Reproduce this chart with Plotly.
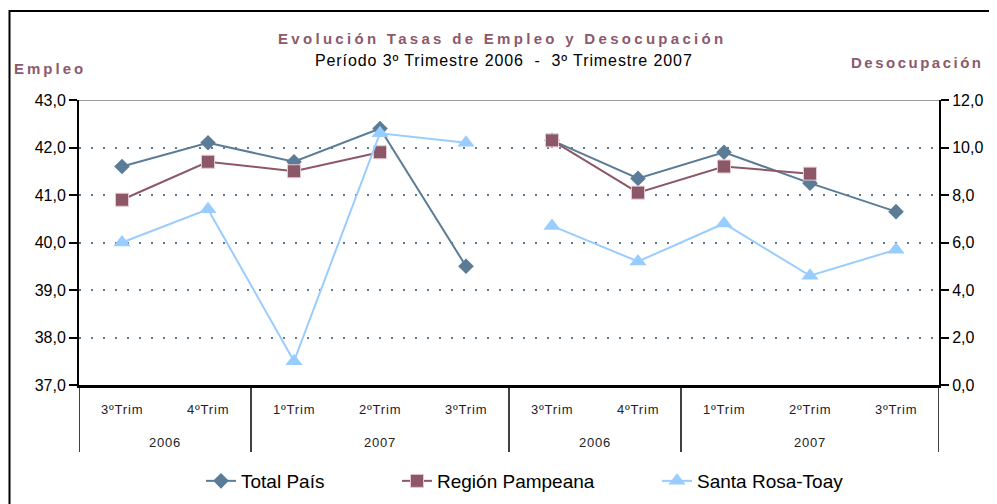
import plotly.graph_objects as go

years = ["2006", "2007", "2006", "2007"]
year_groups = [[0, 1], [2, 3, 4], [5, 6], [7, 8, 9]]
quarters = ["3ºTrim", "4ºTrim", "1ºTrim", "2ºTrim", "3ºTrim",
            "3ºTrim", "4ºTrim", "1ºTrim", "2ºTrim", "3ºTrim"]
x_emp = [0, 1, 2, 3, 4]
x_des = [5, 6, 7, 8, 9]

emp_total = [41.6, 42.1, 41.7, 42.4, 39.5]
emp_pampeana = [40.9, 41.7, 41.5, 41.9, None]
emp_santarosa = [40.0, 40.7, 37.5, 42.3, 42.1]

des_total = [10.3, 8.7, 9.8, 8.5, 7.3]
des_pampeana = [10.3, 8.1, 9.2, 8.9, None]
des_santarosa = [6.7, 5.2, 6.8, 4.6, 5.7]

names = ["Total País", "Región Pampeana", "Santa Rosa-Toay"]
colors = ["#5B7C96", "#8C5867", "#99CCFF"]
symbols = ["diamond", "square", "triangle-up"]
sizes = [12, 13, 15]
legend_ids = ["legend", "legend2", "legend3"]

MAUVE = "#8C5A6C"
FONT = "Liberation Sans, Arial, sans-serif"

# page geometry (the page body adds an 8px offset)
OFF = 8
PW, PH = 997, 504
L, R, T, B = 79, 939, 100, 385


def px(p):
    return (p - L) / (R - L)


def py(p):
    return (B - p) / (B - T)


fig = go.Figure()
emp = [emp_total, emp_pampeana, emp_santarosa]
des = [des_total, des_pampeana, des_santarosa]
for i in range(3):
    mk = dict(symbol=symbols[i], size=sizes[i], color=colors[i],
              line=dict(width=1 if i == 1 else 0, color="#E8C8D0"))
    fig.add_trace(go.Scatter(x=x_emp, y=emp[i], mode="lines+markers", name=names[i],
                             line=dict(color=colors[i], width=2), marker=mk,
                             legendgroup=names[i], showlegend=True, yaxis="y",
                             legend=legend_ids[i]))
    fig.add_trace(go.Scatter(x=x_des, y=des[i], mode="lines+markers", name=names[i],
                             line=dict(color=colors[i], width=2), marker=mk,
                             legendgroup=names[i], showlegend=False, yaxis="y2",
                             legend=legend_ids[i]))

shapes = []
shapes.append(dict(type="line", xref="paper", yref="y", x0=0, x1=1, y0=43, y1=43,
                   line=dict(color="#9A9A9A", width=2), layer="below"))
for b in [-0.5, 1.5, 4.5, 6.5, 9.5]:
    shapes.append(dict(type="line", xref="x", yref="paper", x0=b, x1=b, y0=0, y1=py(452),
                       line=dict(color="black", width=1.5)))
shapes.append(dict(type="rect", xref="paper", yref="paper", x0=px(9.5), x1=px(1100),
                   y0=py(600), y1=py(11), line=dict(color="black", width=2)))

qfont = dict(family=FONT, size=13, color="#222")
annotations = []
for xi, q in enumerate(quarters):
    annotations.append(dict(x=xi, y=0, xref="x", yref="paper", yanchor="middle",
                            text='<span style="letter-spacing:0.8px">' + q + '</span>',
                            showarrow=False, yshift=-24, font=qfont))
for yr, grp in zip(years, year_groups):
    annotations.append(dict(x=sum(grp) / len(grp), y=0, xref="x", yref="paper",
                            yanchor="middle",
                            text='<span style="letter-spacing:0.8px">' + yr + '</span>',
                            showarrow=False, yshift=-57, font=qfont))
annotations.append(dict(x=px(502), y=py(38), xref="paper", yref="paper", showarrow=False,
                        xanchor="center", yanchor="middle",
                        text='<b><span style="letter-spacing:3.3px">Evolución Tasas de Empleo y Desocupación</span></b>',
                        font=dict(family=FONT, size=15, color=MAUVE)))
annotations.append(dict(x=px(503.5), y=py(60), xref="paper", yref="paper", showarrow=False,
                        xanchor="center", yanchor="middle",
                        text='<span style="letter-spacing:0.9px">Período 3º Trimestre 2006  -  3º Trimestre 2007</span>',
                        font=dict(family=FONT, size=16, color="black")))
annotations.append(dict(x=px(12), y=py(68), xref="paper", yref="paper", xanchor="left",
                        yanchor="middle", showarrow=False,
                        text='<b><span style="letter-spacing:3px">Empleo</span></b>',
                        font=dict(family=FONT, size=15, color=MAUVE)))
annotations.append(dict(x=px(986), y=py(62), xref="paper", yref="paper", xanchor="right",
                        yanchor="middle", showarrow=False,
                        text='<b><span style="letter-spacing:2.5px">Desocupación</span></b>',
                        font=dict(family=FONT, size=15, color=MAUVE)))

leg_common = dict(orientation="h", y=py(481), yanchor="middle", xanchor="left",
                  font=dict(family=FONT, size=19, color="black"), bgcolor="rgba(0,0,0,0)")

W, H = PW - OFF, PH - OFF
fig.update_layout(
    width=W, height=H,
    margin=dict(l=L - OFF, r=W - (R - OFF), t=T - OFF, b=H - (B - OFF), autoexpand=False),
    paper_bgcolor="white", plot_bgcolor="white",
    separators=",.",
    showlegend=True,
    legend=dict(x=px(201), **leg_common),
    legend2=dict(x=px(397), **leg_common),
    legend3=dict(x=px(657), **leg_common),
    xaxis=dict(range=[-0.5, 9.5], showticklabels=False, ticks="", showgrid=False,
               zeroline=False, showline=True, linecolor="black", linewidth=3),
    yaxis=dict(range=[37, 43], dtick=1, tickformat=".1f", showgrid=True,
               gridcolor="#5F7B93", griddash="2px,10px", gridwidth=2, zeroline=False,
               showline=True, linecolor="black", linewidth=2, ticks="outside",
               ticklen=8, tickwidth=2, tickcolor="black",
               tickfont=dict(family=FONT, size=16, color="black")),
    yaxis2=dict(range=[0, 12], dtick=2, tickformat=".1f", overlaying="y", side="right",
                showgrid=False, zeroline=False, showline=True, linecolor="black",
                linewidth=2, ticks="outside", ticklen=8, tickwidth=2, tickcolor="black",
                tickfont=dict(family=FONT, size=16, color="black")),
    shapes=shapes,
    annotations=annotations,
)

fig.write_html("out.html")
